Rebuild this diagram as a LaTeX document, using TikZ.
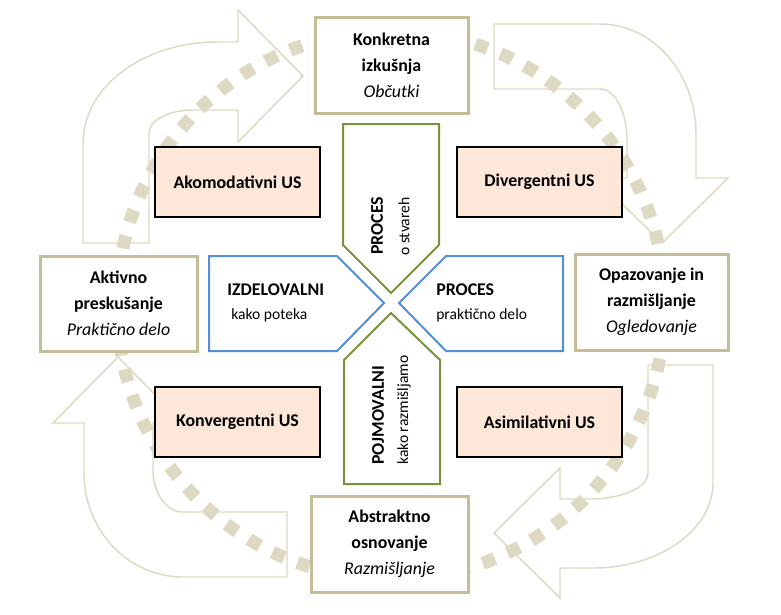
\documentclass[tikz,border=0pt]{standalone}
\usepackage{fontspec}
\setmainfont{Carlito}
\definecolor{tanb}{RGB}{196,189,151}
\definecolor{tanl}{RGB}{221,217,195}
\definecolor{pinkf}{RGB}{252,231,216}
\definecolor{grn}{RGB}{119,147,60}
\definecolor{blu}{RGB}{85,142,213}
\begin{document}
\begin{tikzpicture}[x=0.75pt,y=-0.75pt,
 bigarrow/.style={draw=tanl, line width=1.1pt, line join=miter},
 dotring/.style={draw=tanl, line width=9.75pt, dash pattern=on 9.75pt off 10.5pt},
 tanbox/.style={draw=tanb, line width=2.25pt, fill=white, align=center, font=\fontsize{13.4}{19.5}\selectfont, minimum width=114.75pt, minimum height=72pt, inner sep=0pt},
 usbox/.style={draw=black, line width=1.5pt, fill=pinkf, font=\fontsize{13.4}{15}\selectfont\bfseries, minimum width=123.75pt, minimum height=52.5pt},
 gshape/.style={draw=grn, line width=1.5pt, fill=white},
 bshape/.style={draw=blu, line width=1.5pt, fill=white},
 bigtxt/.style={font=\fontsize{13.4}{15}\selectfont\bfseries, inner sep=0pt},
 smalltxt/.style={font=\fontsize{11.7}{14}\selectfont, inner sep=0pt}]
\useasboundingbox (0,0) rectangle (781,614);

% big curved block arrows
\draw[bigarrow] (83,243) -- (83,143) arc[start angle=180, end angle=270, x radius=134, y radius=101]
  -- (238,42) -- (238,10) -- (303,76) -- (238,142) -- (238,110) -- (193,110)
  arc[start angle=270, end angle=180, x radius=44, y radius=23] -- (149,243) -- cycle;
\draw[bigarrow] (494,24) -- (600,24) arc[start angle=270, end angle=360, x radius=96, y radius=110]
  -- (696,178) -- (728,178) -- (662,243) -- (596,178) -- (627,178) -- (627,140)
  arc[start angle=0, end angle=-90, x radius=27, y radius=51] -- (494,89) -- cycle;
\draw[bigarrow] (648,365) -- (713,365) -- (713,483) arc[start angle=0, end angle=90, x radius=120, y radius=85]
  -- (560,568) -- (560,598) -- (494,533) -- (560,468) -- (560,499) -- (590,499)
  arc[start angle=90, end angle=0, x radius=58, y radius=26] -- cycle;
\draw[bigarrow] (287,512) -- (287,577) -- (183,577) arc[start angle=90, end angle=180, x radius=99, y radius=104]
  -- (84,423) -- (53,423) -- (118,357) -- (183,423) -- (153,423) -- (153,470)
  arc[start angle=180, end angle=90, x radius=30, y radius=42] -- cycle;

% dotted ring
\draw[dotring] (391,305) circle[radius=274];

% stage boxes
\node[tanbox] (konk) at (391.5,65) {\textbf{Konkretna}\\\textbf{izkušnja}\\\textit{Občutki}};
\node[tanbox, minimum width=117.75pt, minimum height=71.25pt] (akt) at (118.5,303.5) {\textbf{Aktivno}\\\textbf{preskušanje}\\\textit{Praktično delo}};
\node[tanbox] (opaz) at (651.5,302) {\textbf{Opazovanje in}\\\textbf{razmišljanje}\\\textit{Ogledovanje}};
\node[tanbox, minimum width=117.75pt] (abs) at (389.5,544) {\textbf{Abstraktno}\\\textbf{osnovanje}\\\textit{Razmišljanje}};

% learning style boxes
\node[usbox] (ako) at (237.5,182) {Akomodativni US};
\node[usbox] (div) at (539.5,182) {Divergentni US};
\node[usbox] (kon) at (237.5,422) {Konvergentni US};
\node[usbox] (asi) at (539.5,422) {Asimilativni US};

% central arrows
\draw[gshape] (343,124) -- (439,124) -- (439,245) -- (391,293) -- (343,245) -- cycle;
\draw[gshape] (391,313) -- (440,360) -- (440,484) -- (344,484) -- (344,360) -- cycle;
\draw[bshape] (209,256) -- (337,256) -- (384,303) -- (337,351) -- (209,351) -- cycle;
\draw[bshape] (399,303) -- (446,256) -- (563,256) -- (563,351) -- (446,351) -- cycle;

\node[bigtxt, rotate=90, anchor=west] (proc1) at (377,255) {PROCES};
\node[smalltxt, rotate=90, anchor=west] (stv) at (404,256) {o stvareh};
\node[bigtxt, rotate=90, anchor=west] (pojm) at (378,465) {POJMOVALNI};
\node[smalltxt, rotate=90, anchor=west] (razm) at (404,465) {kako razmišljamo};
\node[bigtxt, anchor=west] (izd) at (227,290) {IZDELOVALNI};
\node[smalltxt, anchor=west] (pot) at (231,315) {kako poteka};
\node[bigtxt, anchor=west] (proc2) at (436,290) {PROCES};
\node[smalltxt, anchor=west] (prak) at (436,315) {praktično delo};
\end{tikzpicture}
\end{document}
